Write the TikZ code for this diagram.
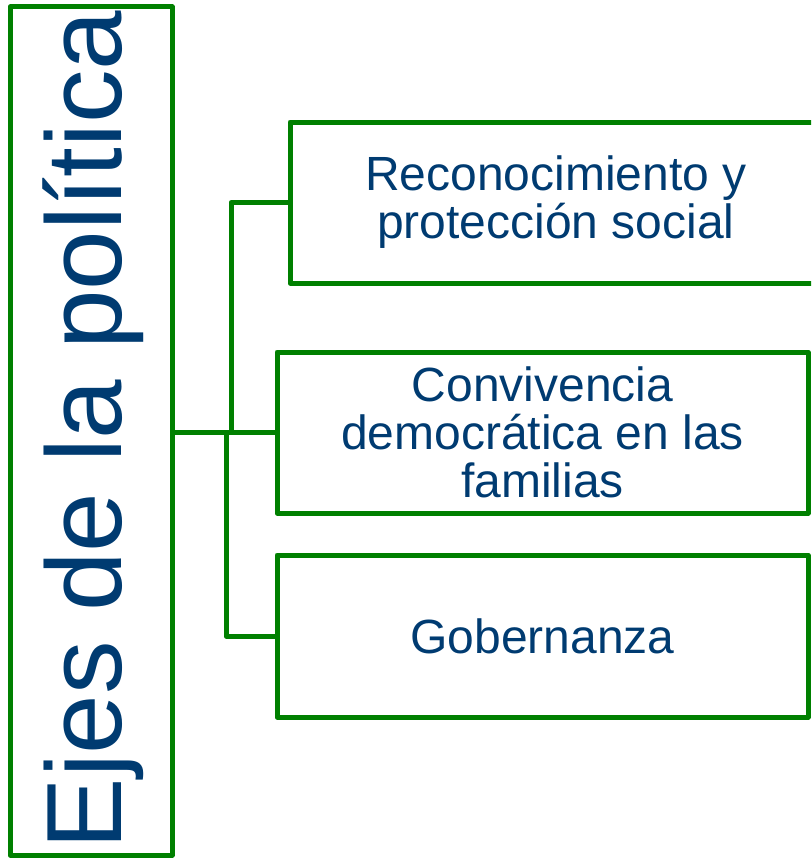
\documentclass[tikz,border=0pt]{standalone}
\usepackage{fontspec}
\setmainfont{Liberation Sans}
\definecolor{boxgreen}{RGB}{0,128,0}
\definecolor{textblue}{RGB}{0,59,113}
\begin{document}
\begin{tikzpicture}[x=1pt,y=-1pt,
  box/.style={draw=boxgreen, line width=5pt, line join=round, rectangle, inner sep=0pt,
    text=textblue, align=center, font=\fontsize{48}{48}\selectfont},
  conn/.style={draw=boxgreen, line width=5pt, line join=round}]
\useasboundingbox (0,0) rectangle (811,859);
\clip (0,0) rectangle (811,859);
\node[box, minimum width=162pt, minimum height=848pt] (axis) at (91,431) {};
\node[text=textblue, font=\fontsize{107}{110}\selectfont, rotate=90, anchor=base, inner sep=0pt] (title) at (121,430) {Ejes de la política};
\node[box, minimum width=532pt, minimum height=161pt] (b1) at (556,202.5) {Reconocimiento y\\protección social};
\node[box, minimum width=531pt, minimum height=161pt] (b2) at (542.5,432.5) {Convivencia\\democrática en las\\familias};
\node[box, minimum width=531pt, minimum height=162pt] (b3) at (542.5,636) {Gobernanza};
\coordinate (j1) at (231,432);
\coordinate (j2) at (226,432);
\draw[conn] (axis.east |- b2.west) -- (b2.west);
\draw[conn] (j1) |- (b1.west);
\draw[conn] (j2) |- (b3.west);
\end{tikzpicture}
\end{document}
